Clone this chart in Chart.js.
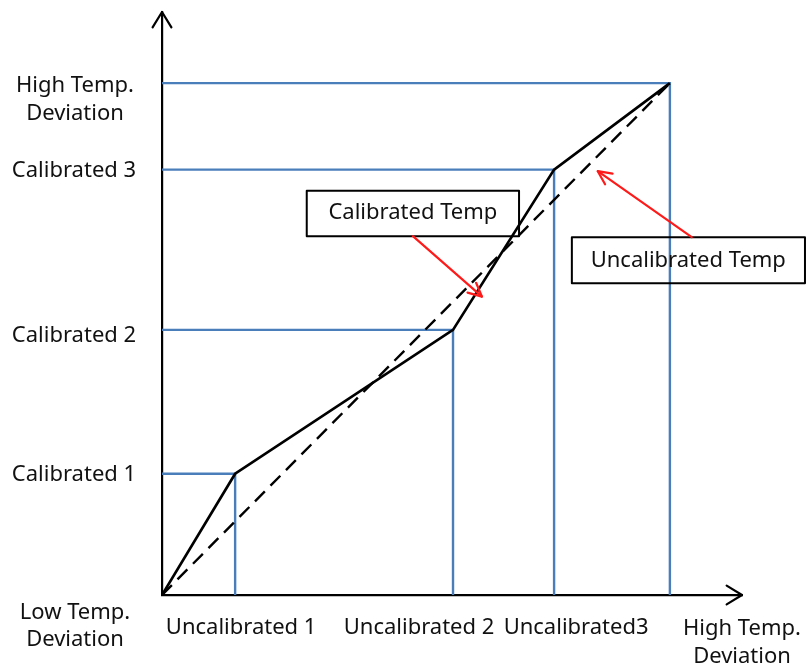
<!DOCTYPE html>
<html>
<head>
<meta charset="utf-8">
<script src="https://cdn.jsdelivr.net/npm/chart.js@4/dist/chart.umd.min.js"></script>
<style>
  body { margin: 0; background: #fff; }
</style>
</head>
<body>
<canvas id="myChart" width="808" height="668"></canvas>
<script>
// calibration points, scaled so the high deviation is 100
var Uncalibrated = [0, 14.4, 57.3, 77.2, 100];
var Calibrated = [0, 23.7, 51.8, 83.1, 100];
var XNames = ['Uncalibrated 1', 'Uncalibrated 2', 'Uncalibrated3'];
var YNames = ['Calibrated 1', 'Calibrated 2', 'Calibrated 3'];
var HighName = ['High Temp.', 'Deviation'];
var LowName = ['Low Temp.', 'Deviation'];
var Notes = ['Calibrated Temp', 'Uncalibrated Temp'];

var FONT = '22px "Noto Sans", sans-serif';
var BLUE = '#4a7ebb';

function initchart() {

    // calibrated curve against the raw reading
    var curve = [];
    for (var i = 0; i < Uncalibrated.length; i++) {
        curve.push({ x: Uncalibrated[i], y: Calibrated[i] });
    }
    var last = Uncalibrated.length - 1;

    var datasets = [
        {
            label: 'Calibrated Temp',
            data: curve,
            borderColor: '#000',
            borderWidth: 2.7,
            order: 0
        },
        {
            label: 'Uncalibrated Temp',
            data: [{ x: 0, y: 0 }, { x: Uncalibrated[last], y: Calibrated[last] }],
            borderColor: '#000',
            borderWidth: 2.4,
            borderDash: [14, 8],
            order: 1
        }
    ];

    // guide lines from each point back to both axes
    for (var j = 1; j < Uncalibrated.length; j++) {
        datasets.push({
            label: 'guide' + j,
            data: [
                { x: 0, y: Calibrated[j] },
                { x: Uncalibrated[j], y: Calibrated[j] },
                { x: Uncalibrated[j], y: 0 }
            ],
            borderColor: BLUE,
            borderWidth: 2.4,
            order: 2
        });
    }

    function arrowHead(ctx, tx, ty, angle, len, spread) {
        ctx.beginPath();
        ctx.moveTo(tx + len * Math.cos(angle + spread), ty + len * Math.sin(angle + spread));
        ctx.lineTo(tx, ty);
        ctx.lineTo(tx + len * Math.cos(angle - spread), ty + len * Math.sin(angle - spread));
        ctx.stroke();
    }

    function textLines(ctx, lines, x, y, gap) {
        for (var k = 0; k < lines.length; k++) {
            ctx.fillText(lines[k], x, y + k * gap);
        }
    }

    var labelPlugin = {
        id: 'labels',
        afterDraw: function (chart) {
            var ctx = chart.ctx;
            var xs = chart.scales.x;
            var ys = chart.scales.y;
            var area = chart.chartArea;

            ctx.save();
            ctx.strokeStyle = '#000';
            ctx.lineWidth = 2.2;
            ctx.lineCap = 'round';
            ctx.lineJoin = 'round';
            // axis arrows
            arrowHead(ctx, area.left, area.top, Math.PI / 2, 18, 0.55);
            arrowHead(ctx, area.right, area.bottom, Math.PI, 18, 0.55);

            ctx.font = FONT;
            ctx.fillStyle = '#111';
            ctx.textAlign = 'center';
            ctx.textBaseline = 'middle';

            // y side labels
            var yNudge = [1, 6, 1];
            for (var a = 0; a < YNames.length; a++) {
                ctx.fillText(YNames[a], 74, ys.getPixelForValue(Calibrated[a + 1]) + yNudge[a]);
            }
            textLines(ctx, HighName, 75, ys.getPixelForValue(Calibrated[last]) + 3, 28);
            textLines(ctx, LowName, 75, area.bottom + 18, 27);

            // x side labels
            var xNudge = [6, -34, 22];
            for (var b = 0; b < XNames.length; b++) {
                ctx.fillText(XNames[b], xs.getPixelForValue(Uncalibrated[b + 1]) + xNudge[b], area.bottom + 33);
            }
            textLines(ctx, HighName, area.right, area.bottom + 34, 28);

            // callout boxes (outline only, lines show through)
            function px(v) { return xs.getPixelForValue(v); }
            function py(v) { return ys.getPixelForValue(v); }

            ctx.lineWidth = 2;
            ctx.strokeStyle = '#000';
            ctx.strokeRect(px(28.5), py(79.0), px(70.3) - px(28.5), py(70.1) - py(79.0));
            ctx.strokeRect(px(80.7), py(69.9), px(126.6) - px(80.7), py(60.9) - py(69.9));

            ctx.fillStyle = '#111';
            ctx.fillText(Notes[0], px(49.4), py(74.6));
            ctx.textAlign = 'left';
            ctx.fillText(Notes[1], px(84.4), py(65.4));

            // red pointers
            ctx.strokeStyle = '#ff1a1a';
            ctx.lineWidth = 2.2;
            var pointers = [
                [49.4, 70.1, 63.0, 58.3],
                [104.3, 69.9, 85.8, 82.8]
            ];
            pointers.forEach(function (p) {
                var x0 = px(p[0]), y0 = py(p[1]), x1 = px(p[2]), y1 = py(p[3]);
                ctx.beginPath();
                ctx.moveTo(x0, y0);
                ctx.lineTo(x1, y1);
                ctx.stroke();
                var ang = Math.atan2(y0 - y1, x0 - x1);
                arrowHead(ctx, x1, y1, ang, 15, 0.45);
            });
            ctx.restore();
        }
    };

    var config = {
        type: 'scatter',
        data: { datasets: datasets },
        options: {
            responsive: false,
            animation: false,
            showLine: true,
            elements: {
                point: { radius: 0, hoverRadius: 0 },
                line: { tension: 0, fill: false }
            },
            layout: {
                padding: { left: 162, right: 66, top: 12, bottom: 73 }
            },
            plugins: {
                legend: { display: false },
                tooltip: { enabled: false }
            },
            scales: {
                x: {
                    type: 'linear',
                    min: 0,
                    max: 114.2,
                    grid: { display: false, drawTicks: false },
                    ticks: { display: false },
                    border: { display: true, color: '#000', width: 2.2 },
                    afterFit: function (s) { s.height = 0; }
                },
                y: {
                    type: 'linear',
                    min: 0,
                    max: 113.9,
                    grid: { display: false, drawTicks: false },
                    ticks: { display: false },
                    border: { display: true, color: '#000', width: 2.2 },
                    afterFit: function (s) { s.width = 0; }
                }
            }
        },
        plugins: [labelPlugin]
    };

    const myChart = new Chart(
        document.getElementById('myChart'),
        config
    );
}

initchart();
</script>
</body>
</html>
